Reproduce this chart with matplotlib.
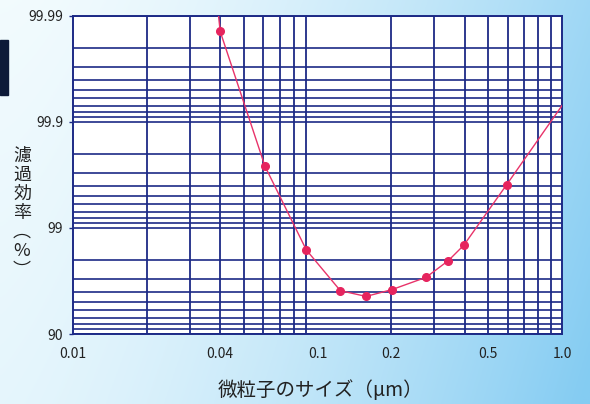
import numpy as np
import matplotlib
matplotlib.use("Agg")
import matplotlib.pyplot as plt
from matplotlib.patches import Rectangle

plt.rcParams['font.family'] = ['Noto Sans CJK JP', 'DejaVu Sans']

# particle size (um) and filtration efficiency (%) at the marked points
size_um = [0.040, 0.061, 0.090, 0.124, 0.158, 0.201, 0.278, 0.343, 0.397, 0.594]
efficiency = [99.986, 99.738, 98.39, 96.1, 95.58, 96.18, 97.08, 97.97, 98.55, 99.61]

# the curve runs past the marked points to the plot edges
curve_x = [0.0392] + size_um + [1.0]
curve_y = [99.991] + efficiency + [99.93]

x_ticks = [0.01, 0.04, 0.1, 0.2, 0.5, 1.0]
x_tick_labels = ["0.01", "0.04", "0.1", "0.2", "0.5", "1.0"]
y_ticks = [90, 99, 99.9, 99.99]
y_tick_labels = ["90", "99", "99.9", "99.99"]

# grid lines of the chart paper (no line is printed at 0.1)
x_grid = [0.02, 0.03, 0.04, 0.05, 0.06, 0.07, 0.08, 0.09,
          0.2, 0.3, 0.4, 0.5, 0.6, 0.7, 0.8, 0.9]
penetration = [p * d for d in (10, 1, 0.1, 0.01) for p in (1, 2, 3, 4, 5, 6, 7, 8, 9)]
y_grid = [100 - p for p in penetration if 0.01 <= p <= 10]


def fwd(e):
    return -np.log10(np.clip(100 - np.asarray(e, dtype=float), 1e-9, None))


def inv(t):
    return 100 - 10 ** (-np.asarray(t, dtype=float))


fig = plt.figure(figsize=(5.9, 4.04), dpi=100)

# light blue gradient background
bg = fig.add_axes([0, 0, 1, 1], zorder=-10)
gx, gy = np.meshgrid(np.linspace(0, 1, 300), np.linspace(0, 1, 200))
t = np.clip(0.75 * gx ** 1.6 + 0.15 * gy * gx + 0.12 * gy, 0, 1)
c0 = np.array([0.95, 0.985, 0.995])
c1 = np.array([0.52, 0.80, 0.95])
img = c0[None, None, :] * (1 - t[..., None]) + c1[None, None, :] * t[..., None]
bg.imshow(img, aspect='auto', extent=[0, 1, 0, 1], origin='upper')
bg.axis('off')
fig.patches.append(Rectangle((0, 1 - 95 / 404), 8 / 590, 55 / 404,
                             transform=fig.transFigure, color='#0d1a38', zorder=5))

ax = fig.add_axes([73 / 590, 1 - 334 / 404, 489 / 590, 318 / 404])
ax.set_facecolor('white')
ax.set_xscale('log')
ax.set_yscale('function', functions=(fwd, inv))
ax.set_xlim(0.01, 1.0)
ax.set_ylim(90, 99.99)

grid_color = '#1c2a86'
for gxv in x_grid:
    ax.axvline(gxv, color=grid_color, lw=1.3, zorder=1)
for gyv in y_grid:
    ax.axhline(gyv, color=grid_color, lw=1.2, zorder=1)
for s in ax.spines.values():
    s.set_color(grid_color)
    s.set_linewidth(1.4)

ax.plot(curve_x, curve_y, color='#e8336a', lw=1.0, zorder=3, clip_on=True)
ax.plot(size_um, efficiency, 'o', color='#e6245e', ms=5.5, mec='#e6245e', zorder=4)

ax.set_xticks(x_ticks)
ax.set_xticklabels(x_tick_labels)
ax.set_xticks([], minor=True)
ax.set_yticks(y_ticks)
ax.set_yticklabels(y_tick_labels)
ax.set_yticks([], minor=True)
ax.tick_params(axis='x', length=0, pad=9, labelsize=10, colors='#222222')
ax.tick_params(axis='y', length=3, width=1, color=grid_color, pad=4, labelsize=10,
               labelcolor='#222222')

fig.text(22 / 590, 1 - 213 / 404, "濾\n過\n効\n率\n︵\n%\n︶", ha='center', va='center',
         fontsize=13, linespacing=1.08, color='#222222')
fig.text(320 / 590, 1 - 391 / 404, "微粒子のサイズ（μm）", ha='center', va='center',
         fontsize=14, color='#222222')

fig.savefig("out.png", dpi=100)
